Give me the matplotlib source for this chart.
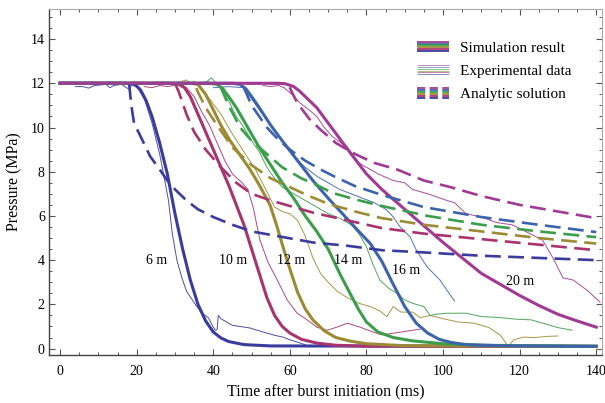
import matplotlib
matplotlib.use("Agg")
import matplotlib.pyplot as plt
from matplotlib.legend_handler import HandlerBase
from matplotlib.lines import Line2D
from matplotlib.ticker import MultipleLocator

plt.rcParams['font.family'] = ['Liberation Serif', 'DejaVu Serif']
plt.rcParams['font.size'] = 10

# --- data (time ms, pressure MPa) ---
dist_labels = ['6 m', '10 m', '12 m', '14 m', '16 m', '20 m']
colors = ['#3b3b9e', '#a8346f', '#9c8b35', '#3c9e4c', '#3d64aa', '#a03a92']
label_t = [25.1, 45.2, 60.3, 75.2, 90.3, 120.1]
label_p = [4.0, 4.0, 4.0, 4.0, 3.55, 3.05]

# simulation result (thick solid)
sim6_t = [0, 17.5, 19.5, 21, 22.5, 24, 26, 28, 30, 32, 34, 36, 38, 40, 42, 44, 48, 55, 140]
sim6_p = [12, 12, 11.95, 11.7, 11.2, 10.5, 9.3, 7.9, 6.1, 4.5, 3.1, 2.0, 1.25, 0.75, 0.48, 0.32, 0.18, 0.12, 0.1]
sim10_t = [0, 29, 31, 32.5, 34, 36, 38, 40, 42, 44, 46, 48, 50, 52, 54, 56, 58, 60, 63, 67, 72, 80, 140]
sim10_p = [12, 12, 11.95, 11.8, 11.4, 10.6, 9.8, 9.0, 8.2, 7.4, 6.5, 5.6, 4.5, 3.4, 2.3, 1.5, 1.0, 0.7, 0.42, 0.25, 0.15, 0.11, 0.1]
sim12_t = [0, 34, 36, 38, 40, 42, 44.4, 47, 49.6, 52, 54.8, 56.5, 58.2, 60, 62, 64, 66, 69, 72, 76, 80, 90, 140]
sim12_p = [12, 12, 11.95, 11.5, 10.8, 10.1, 9.4, 8.75, 8.1, 7.4, 6.5, 5.6, 4.6, 3.6, 2.55, 1.8, 1.3, 0.8, 0.5, 0.33, 0.22, 0.13, 0.1]
sim14_t = [0, 39, 41, 42.5, 44, 46, 49, 52, 55, 58, 61, 64, 67, 70, 73, 76, 78, 80, 83, 87, 92, 100, 110, 140]
sim14_p = [12, 12, 11.95, 11.75, 11.4, 10.9, 10.0, 9.1, 8.3, 7.5, 6.8, 6.0, 5.3, 4.5, 3.4, 2.4, 1.75, 1.2, 0.75, 0.5, 0.35, 0.22, 0.15, 0.1]
sim16_t = [0, 45, 47, 48.5, 50, 52, 55, 58, 62, 66, 70, 74, 78, 81, 84, 87, 90, 93, 96, 99, 102, 106, 115, 140]
sim16_p = [12, 12, 11.95, 11.75, 11.4, 10.9, 10.1, 9.4, 8.5, 7.6, 6.8, 6.05, 5.3, 4.75, 3.95, 2.9, 1.9, 1.15, 0.7, 0.42, 0.28, 0.18, 0.13, 0.1]
sim20_t = [0, 57, 59, 61, 62.5, 64, 67, 70, 73, 76, 80, 84, 88, 92, 96, 100, 105, 110, 115, 120, 125, 130, 135, 140]
sim20_p = [12, 12, 11.97, 11.85, 11.65, 11.4, 10.9, 10.2, 9.5, 8.8, 7.9, 7.2, 6.6, 6.0, 5.4, 4.8, 4.1, 3.4, 2.9, 2.4, 1.95, 1.55, 1.25, 0.97]

# experimental data (thin)
exp6_t = [4, 6, 7.5, 9, 12, 13, 14, 16, 17.5, 18.2, 18.6, 20, 22, 24, 26, 27, 28.3, 29.3, 30.5, 31.8, 33,
          35.7, 37, 38.7, 40, 40.5, 41, 41.3, 42, 45, 47, 49.6, 52, 54, 56, 58.2, 60, 62.7, 64]
exp6_p = [11.85, 11.85, 11.78, 11.9, 11.95, 11.8, 11.9, 11.95, 11.78, 11.72, 11.92, 11.85, 11.3, 10.2, 8.8, 7.9, 6.7, 5.2, 4.0, 3.2, 2.6,
          1.9, 1.6, 1.4, 0.97, 0.83, 0.85, 1.5, 1.35, 1.05, 1.0, 0.93, 0.8, 0.7, 0.6, 0.52, 0.4, 0.25, 0.17]
exp10_t = [22, 24, 26, 28, 29.5, 31, 33, 35, 37, 39, 41, 43, 45, 47.5, 49, 50.4, 52.2, 54.3, 56.7, 59.3, 61.9,
           64.5, 67, 69.7, 72.3, 75, 78.3, 81.7, 84, 88, 94]
exp10_p = [11.85, 11.8, 11.9, 11.85, 11.9, 12.0, 11.8, 11.4, 10.7, 10.1, 9.3, 8.5, 7.9, 7.5, 7.2, 6.4, 4.9, 3.9, 3.1, 2.2, 1.6,
           1.3, 0.97, 0.83, 0.97, 1.15, 0.97, 0.75, 0.62, 0.72, 0.88]
exp12_t = [31, 33, 34, 35, 36, 39, 42, 45, 48, 51, 54, 56, 58, 60, 62, 64, 66, 68, 70, 72.3, 75, 78, 81, 83.5,
           85.3, 87, 89, 92, 94, 96.6, 100, 104, 108, 112, 115, 117, 118.5, 121, 124, 127, 130]
exp12_p = [12.05, 12.15, 12.0, 12.1, 11.9, 11.3, 10.6, 9.7, 8.9, 8.1, 7.1, 6.4, 6.2, 6.1, 5.8, 5.1, 4.1, 3.4, 3.0, 2.6, 2.3, 2.05, 1.9, 1.7,
           1.45, 1.9, 1.65, 1.65, 1.4, 1.5, 1.35, 1.2, 1.15, 0.95, 0.6, 0.1, 0.4, 0.52, 0.5, 0.55, 0.57]
exp14_t = [37, 38.5, 39.5, 40.5, 42, 44, 46, 48, 50, 52, 54, 56, 58, 61, 64, 67, 70, 73, 76, 78, 80, 81.7, 83.5,
           86, 88, 90, 92, 95, 96.6, 98, 101, 106, 110, 115, 119, 123, 127, 130, 133.7]
exp14_p = [12.0, 12.1, 12.25, 12.05, 11.8, 11.2, 10.5, 10.0, 9.4, 8.9, 8.2, 7.7, 7.3, 7.0, 6.7, 6.4, 6.1, 5.9, 5.6, 5.2, 4.6, 3.8, 3.1,
           2.7, 2.5, 2.2, 2.05, 1.9, 1.5, 1.55, 1.6, 1.6, 1.45, 1.4, 1.33, 1.3, 1.1, 0.95, 0.83]
exp16_t = [40, 44, 48, 49.6, 52, 55, 58, 61, 64, 67, 70, 73, 76, 79, 82, 85.3, 87, 88.8, 91.4, 93, 95.8, 97.5, 99.2, 101, 103]
exp16_p = [11.8, 11.85, 11.8, 11.4, 10.8, 10.1, 9.4, 8.7, 8.2, 7.8, 7.5, 7.2, 7.0, 6.8, 6.6, 6.27, 5.95, 5.5, 5.05, 4.46, 3.7, 3.4, 3.1, 2.64, 2.15]
exp20_t = [53, 55, 57, 58.5, 60.5, 62.7, 65, 67, 69, 71, 73, 75, 78, 80, 83, 87, 90, 92, 96, 101, 103, 106, 110,
           114, 118, 122.7, 126, 128.7, 131.3, 134, 137.6, 141]
exp20_p = [11.9, 11.85, 11.9, 11.8, 11.5, 11.1, 10.8, 10.5, 10.0, 9.6, 9.35, 9.1, 8.4, 8.2, 7.9, 7.6, 7.5, 7.2, 7.0, 6.7, 6.6, 6.1, 5.95,
           5.7, 5.6, 5.2, 4.9, 4.1, 3.2, 3.1, 2.64, 2.1]

# analytic solution (dashed)
ana6_t = [0, 18, 18.6, 19.3, 21, 23.5, 26, 28, 30, 33, 36, 40, 45, 50, 58, 66, 75, 84, 95, 110, 125, 140]
ana6_p = [12, 12, 11.0, 10.2, 9.6, 8.7, 8.1, 7.6, 7.2, 6.7, 6.3, 5.95, 5.6, 5.3, 5.05, 4.8, 4.65, 4.45, 4.35, 4.2, 4.1, 4.0]
ana10_t = [0, 30, 31, 33, 35, 38, 42, 46, 50, 55, 60, 66, 75, 84, 95, 110, 125, 140]
ana10_p = [12, 12, 11.6, 10.6, 9.8, 9.0, 8.2, 7.5, 7.0, 6.7, 6.45, 6.15, 5.8, 5.45, 5.2, 4.95, 4.7, 4.45]
ana12_t = [0, 35, 36, 38, 41, 45, 50, 55, 60, 65, 70, 77, 84, 95, 110, 125, 140]
ana12_p = [12, 12, 11.6, 10.9, 10.1, 9.1, 8.3, 7.7, 7.3, 6.9, 6.55, 6.2, 5.9, 5.6, 5.3, 5.0, 4.75]
ana14_t = [0, 41.5, 42.5, 44, 47, 50, 54, 58, 63, 67, 71, 77, 84, 96, 110, 125, 140]
ana14_p = [12, 12, 11.6, 11.0, 10.0, 9.4, 8.8, 8.2, 7.7, 7.4, 7.05, 6.75, 6.45, 6.0, 5.6, 5.3, 5.04]
ana16_t = [0, 47.5, 48.5, 50, 54, 57, 60, 64, 68, 72, 77, 84, 95, 110, 125, 140]
ana16_p = [12, 12, 11.6, 11.0, 10.0, 9.45, 9.0, 8.5, 8.1, 7.75, 7.35, 6.95, 6.4, 5.95, 5.6, 5.27]
ana20_t = [0, 59.5, 60.5, 62, 65, 68, 72, 77, 82, 88, 95, 102, 110, 120, 130, 140]
ana20_p = [12, 12, 11.6, 11.1, 10.4, 9.9, 9.3, 8.8, 8.4, 8.1, 7.6, 7.3, 6.9, 6.5, 6.2, 5.9]

sims = [(sim6_t, sim6_p), (sim10_t, sim10_p), (sim12_t, sim12_p),
        (sim14_t, sim14_p), (sim16_t, sim16_p), (sim20_t, sim20_p)]
exps = [(exp6_t, exp6_p), (exp10_t, exp10_p), (exp12_t, exp12_p),
        (exp14_t, exp14_p), (exp16_t, exp16_p), (exp20_t, exp20_p)]
anas = [(ana6_t, ana6_p), (ana10_t, ana10_p), (ana12_t, ana12_p),
        (ana14_t, ana14_p), (ana16_t, ana16_p), (ana20_t, ana20_p)]


class StripeHandler(HandlerBase):
    # legend key made of one stripe per colour
    def __init__(self, lw, ls, alpha=1.0):
        super().__init__()
        self.lw = lw
        self.ls = ls
        self.alpha = alpha

    def create_artists(self, legend, orig_handle, xdescent, ydescent,
                       width, height, fontsize, trans):
        out = []
        n = len(colors)
        for i, c in enumerate(colors[::-1]):
            y = -ydescent + height * (0.95 - 0.9 * i / (n - 1))
            ln = Line2D([-xdescent, -xdescent + width], [y, y], color=c,
                        lw=self.lw, linestyle=self.ls, alpha=self.alpha,
                        solid_capstyle='butt', dash_capstyle='butt', transform=trans)
            out.append(ln)
        return out


fig = plt.figure(figsize=(6.05, 4.03), dpi=100)
ax = fig.add_axes([49 / 605, 48 / 403, 553 / 605, 346 / 403])

dash = (0, (6.0, 2.8))
for (t, p), c in zip(exps, colors):
    ax.plot(t, p, color=c, lw=0.7, alpha=0.9)
for (t, p), c in zip(sims, colors):
    ax.plot(t, p, color=c, lw=2.2, solid_joinstyle='round')
for (t, p), c in zip(anas, colors):
    ax.plot(t, p, color=c, lw=1.9, linestyle=dash)

for lab, x, y in zip(dist_labels, label_t, label_p):
    ax.text(x, y, lab, ha='center', va='center', fontsize=10)

ax.set_xlim(-2.9, 141.5)
ax.set_ylim(-0.29, 15.36)
ax.xaxis.set_major_locator(MultipleLocator(20))
ax.xaxis.set_minor_locator(MultipleLocator(5))
ax.yaxis.set_major_locator(MultipleLocator(2))
ax.yaxis.set_minor_locator(MultipleLocator(0.5))
ax.tick_params(which='both', direction='in', top=True, right=True, color='#555555')
ax.tick_params(which='major', length=4.5, width=0.8)
ax.tick_params(which='minor', length=2.5, width=0.7)
ax.tick_params(axis='x', pad=7, labelsize=10)
ax.tick_params(axis='y', pad=3, labelsize=10)
for side in ['left', 'bottom']:
    ax.spines[side].set_color('#444444')
    ax.spines[side].set_linewidth(1.0)
for side in ['top', 'right']:
    ax.spines[side].set_color('#aaaaaa')
    ax.spines[side].set_linewidth(0.8)

ax.set_xlabel('Time after burst initiation (ms)', fontsize=11.5, labelpad=4)
ax.set_ylabel('Pressure (MPa)', fontsize=11.5, labelpad=6)

h_sim, h_exp, h_ana = object(), object(), object()
ax.legend([h_sim, h_exp, h_ana],
          ['Simulation result', 'Experimental data', 'Analytic solution'],
          handler_map={h_sim: StripeHandler(1.3, '-'),
                       h_exp: StripeHandler(0.6, '-', 0.7),
                       h_ana: StripeHandler(1.3, (0, (4.6, 2.4)))},
          loc='upper left', bbox_to_anchor=(0.655, 0.925), frameon=False,
          fontsize=11, handlelength=2.1, handleheight=0.7, handletextpad=0.7,
          labelspacing=0.62, borderaxespad=0)

fig.savefig('out.png', dpi=100)
